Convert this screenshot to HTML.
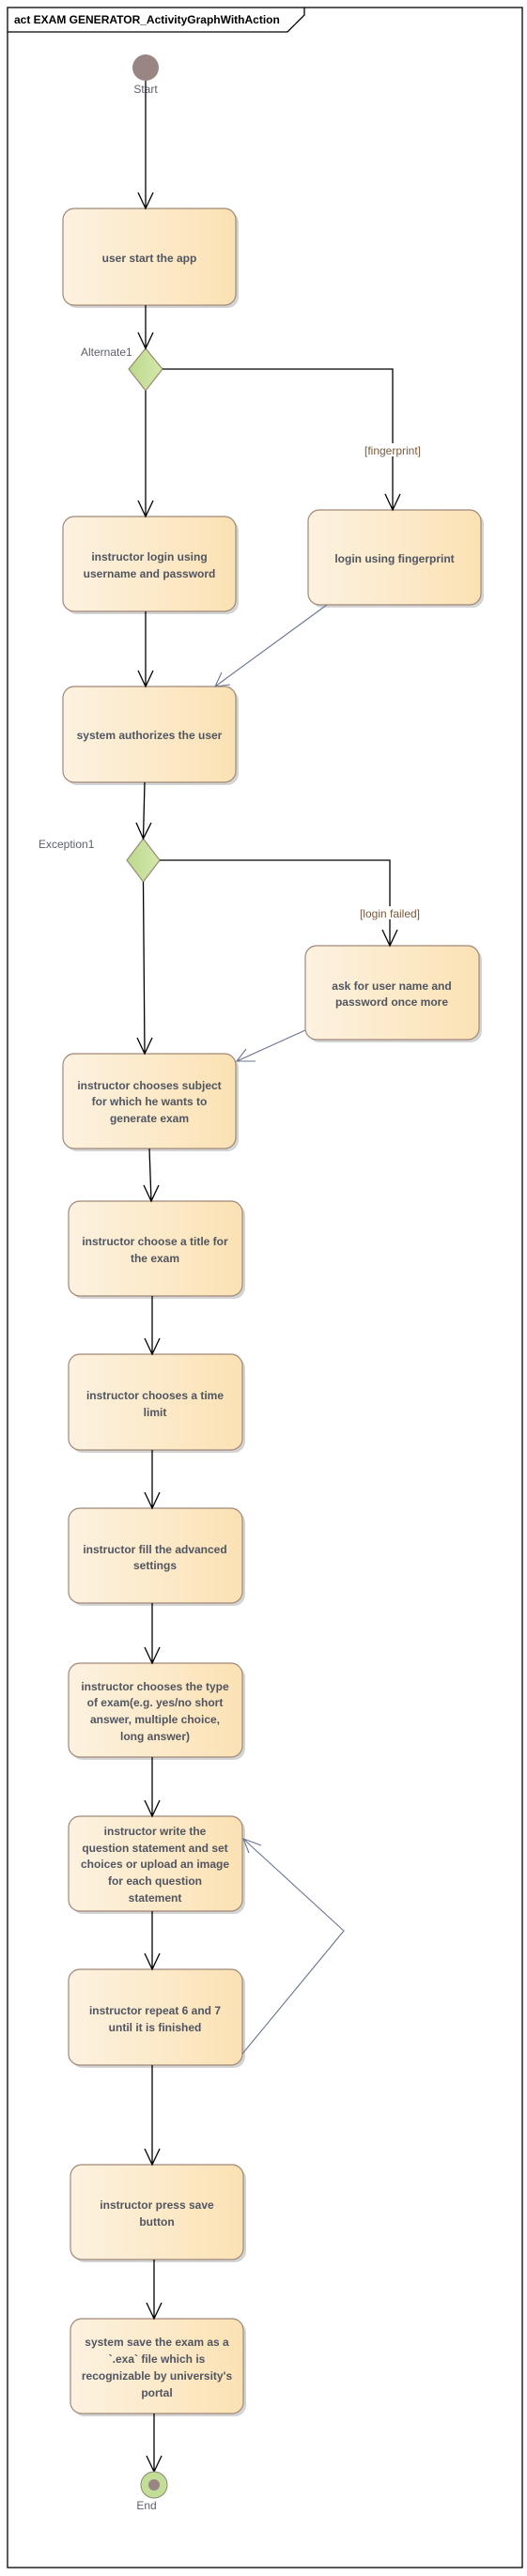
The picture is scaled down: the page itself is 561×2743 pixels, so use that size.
<!DOCTYPE html>
<html><head><meta charset="utf-8"><style>
html,body{margin:0;padding:0;background:#fff;}
svg{display:block;}
.t{font-family:"Liberation Sans",sans-serif;font-size:12px;font-weight:bold;fill:#505560;text-anchor:middle;}
.l{font-family:"Liberation Sans",sans-serif;font-size:12px;fill:#5a5f6a;}
.g{font-family:"Liberation Sans",sans-serif;font-size:12px;fill:#7a5a3a;text-anchor:middle;}
.b{fill:url(#gr);stroke:#a08878;stroke-width:1.2;}
.s{fill:#d4d4d4;}
.k{stroke:#000;stroke-width:1.3;fill:none;}
.u{stroke:#6a7590;stroke-width:1.1;fill:none;}
</style></head><body>
<svg width="561" height="2743" viewBox="0 0 561 2743" xmlns="http://www.w3.org/2000/svg">
<defs>
<linearGradient id="gr" x1="0" x2="1" y1="0" y2="0"><stop offset="0" stop-color="#fdf2e0"/><stop offset="1" stop-color="#fbe2b4"/></linearGradient>
<linearGradient id="gd" x1="0" x2="1"><stop offset="0" stop-color="#bcd98e"/><stop offset="1" stop-color="#d4e8ac"/></linearGradient>
</defs>
<rect x="8" y="8" width="548" height="2726" fill="none" stroke="#000" stroke-width="1.3"/>
<path d="M8 34 H306 L324 16 V8" fill="none" stroke="#000" stroke-width="1.3"/>
<text x="15" y="25" font-family="Liberation Sans,sans-serif" font-size="12" font-weight="bold" fill="#000">act EXAM GENERATOR_ActivityGraphWithAction</text>

<!-- start -->
<circle cx="155" cy="72" r="14" fill="#9a8585"/>
<text class="l" x="155" y="99" text-anchor="middle">Start</text>

<!-- boxes helper: shadow + box -->
<g>
<rect class="s" x="70" y="225" width="184" height="103" rx="12"/><rect class="b" x="67" y="222" width="184" height="103" rx="12"/>
<text class="t" x="159" y="279">user start the app</text>

<rect class="s" x="70" y="553" width="184" height="101" rx="12"/><rect class="b" x="67" y="550" width="184" height="101" rx="12"/>
<text class="t" x="159" y="597">instructor login using</text><text class="t" x="159" y="615">username and password</text>

<rect class="s" x="331" y="546" width="184" height="101" rx="12"/><rect class="b" x="328" y="543" width="184" height="101" rx="12"/>
<text class="t" x="420" y="599">login using fingerprint</text>

<rect class="s" x="70" y="734" width="184" height="102" rx="12"/><rect class="b" x="67" y="731" width="184" height="102" rx="12"/>
<text class="t" x="159" y="787">system authorizes the user</text>

<rect class="s" x="328" y="1010" width="185" height="100" rx="12"/><rect class="b" x="325" y="1007" width="185" height="100" rx="12"/>
<text class="t" x="417" y="1054">ask for user name and</text><text class="t" x="417" y="1071">password once more</text>

<rect class="s" x="70" y="1125" width="184" height="101" rx="12"/><rect class="b" x="67" y="1122" width="184" height="101" rx="12"/>
<text class="t" x="159" y="1160">instructor chooses subject</text><text class="t" x="159" y="1177">for which he wants to</text><text class="t" x="159" y="1195">generate exam</text>

<rect class="s" x="76" y="1282" width="185" height="101" rx="12"/><rect class="b" x="73" y="1279" width="185" height="101" rx="12"/>
<text class="t" x="165" y="1326">instructor choose a title for</text><text class="t" x="165" y="1344">the exam</text>

<rect class="s" x="76" y="1445" width="185" height="102" rx="12"/><rect class="b" x="73" y="1442" width="185" height="102" rx="12"/>
<text class="t" x="165" y="1490">instructor chooses a time</text><text class="t" x="165" y="1508">limit</text>

<rect class="s" x="76" y="1609" width="185" height="101" rx="12"/><rect class="b" x="73" y="1606" width="185" height="101" rx="12"/>
<text class="t" x="165" y="1654">instructor fill the advanced</text><text class="t" x="165" y="1671">settings</text>

<rect class="s" x="76" y="1774" width="185" height="100" rx="12"/><rect class="b" x="73" y="1771" width="185" height="100" rx="12"/>
<text class="t" x="165" y="1800">instructor chooses the type</text><text class="t" x="165" y="1817">of exam(e.g. yes/no short</text><text class="t" x="165" y="1835">answer, multiple choice,</text><text class="t" x="165" y="1853">long answer)</text>

<rect class="s" x="76" y="1937" width="185" height="101" rx="12"/><rect class="b" x="73" y="1934" width="185" height="101" rx="12"/>
<text class="t" x="165" y="1954">instructor write the</text><text class="t" x="165" y="1972">question statement and set</text><text class="t" x="165" y="1989">choices or upload an image</text><text class="t" x="165" y="2007">for each question</text><text class="t" x="165" y="2025">statement</text>

<rect class="s" x="76" y="2100" width="185" height="102" rx="12"/><rect class="b" x="73" y="2097" width="185" height="102" rx="12"/>
<text class="t" x="165" y="2145">instructor repeat 6 and 7</text><text class="t" x="165" y="2163">until it is finished</text>

<rect class="s" x="78" y="2308" width="184" height="101" rx="12"/><rect class="b" x="75" y="2305" width="184" height="101" rx="12"/>
<text class="t" x="167" y="2352">instructor press save</text><text class="t" x="167" y="2370">button</text>

<rect class="s" x="78" y="2472" width="184" height="101" rx="12"/><rect class="b" x="75" y="2469" width="184" height="101" rx="12"/>
<text class="t" x="167" y="2498">system save the exam as a</text><text class="t" x="167" y="2516">`.exa` file which is</text><text class="t" x="167" y="2534">recognizable by university's</text><text class="t" x="167" y="2552">portal</text>
</g>

<!-- diamonds -->
<polygon points="155,371 173,393 155,416 137,393" fill="url(#gd)" stroke="#9a8a70" stroke-width="1.2"/>
<text class="l" x="86" y="379">Alternate1</text>
<polygon points="152.5,893 170,916 152.5,939 135,916" fill="url(#gd)" stroke="#9a8a70" stroke-width="1.2"/>
<text class="l" x="41" y="903">Exception1</text>

<!-- black connectors -->
<g class="k">
<path d="M155 86 V222 M147 205 L155 222 L163 205"/>
<path d="M155 325 V371 M147 354 L155 371 L163 354"/>
<path d="M155 416 V550 M147 533 L155 550 L163 533"/>
<path d="M173 393 H418 V543 M410 526 L418 543 L426 526"/>
<path d="M155 651 V731 M147 714 L155 731 L163 714"/>
<path d="M154 833 L152.5 893 M145 876 L152.5 893 L161 876"/>
<path d="M170 916 H415 V1007 M407 990 L415 1007 L423 990"/>
<path d="M152.5 939 L154 1122 M146 1105 L154 1122 L162 1105"/>
<path d="M159 1223 L161 1279 M153 1262 L161 1279 L169 1262"/>
<path d="M162 1380 V1442 M154 1425 L162 1442 L170 1425"/>
<path d="M162 1544 V1606 M154 1589 L162 1606 L170 1589"/>
<path d="M162 1707 V1771 M154 1754 L162 1771 L170 1754"/>
<path d="M162 1871 V1934 M154 1917 L162 1934 L170 1917"/>
<path d="M162 2035 V2097 M154 2080 L162 2097 L170 2080"/>
<path d="M162 2199 V2305 M154 2288 L162 2305 L170 2288"/>
<path d="M164 2406 V2469 M156 2452 L164 2469 L172 2452"/>
<path d="M164 2570 V2632 M156 2615 L164 2632 L172 2615"/>
</g>
<rect x="386" y="472" width="64" height="14" fill="#fff"/>
<text class="g" x="418" y="484">[fingerprint]</text>
<rect x="380" y="965" width="70" height="14" fill="#fff"/>
<text class="g" x="415" y="977">[login failed]</text>

<!-- blue connectors -->
<g class="u">
<path d="M348 644 L229 731 M236 716 L229 731 L245 729"/>
<path d="M325 1097 L252 1130 M262 1117 L252 1130 L272 1130"/>
<path d="M258 2187 L366 2056 L259 1958 M265 1973 L259 1958 L278 1965"/>
</g>

<!-- end -->
<circle cx="164" cy="2646" r="14" fill="#c2dd96" stroke="#8a8a70" stroke-width="1"/>
<circle cx="164" cy="2646" r="6" fill="#9a8585"/>
<text class="l" x="156" y="2672" text-anchor="middle">End</text>
</svg>
</body></html>
